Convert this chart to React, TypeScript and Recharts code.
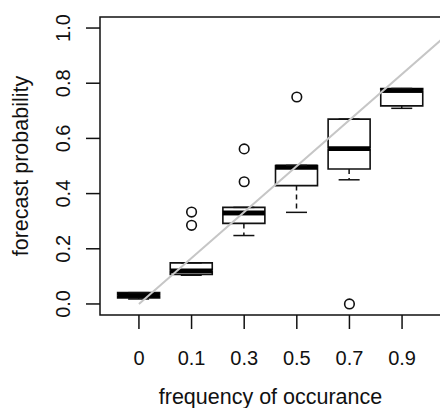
import {
  ComposedChart,
  Bar,
  Scatter,
  XAxis,
  YAxis,
  ReferenceLine,
  ReferenceArea,
} from "recharts";

const categories = ["0", "0.1", "0.3", "0.5", "0.7", "0.9"];
const lowerWhisker = [0.018, 0.104, 0.248, 0.332, 0.45, 0.709];
const lowerQuartile = [0.022, 0.107, 0.292, 0.429, 0.489, 0.718];
const medians = [0.032, 0.12, 0.33, 0.496, 0.563, 0.774];
const upperQuartile = [0.041, 0.149, 0.35, 0.502, 0.67, 0.781];
const upperWhisker = [0.041, 0.149, 0.35, 0.502, 0.67, 0.781];

const outlierGroup = [2, 2, 3, 3, 4, 5];
const outlierValue = [0.333, 0.285, 0.562, 0.443, 0.75, 0.0];

const yTicks = [0, 0.2, 0.4, 0.6, 0.8, 1];
const diagonalFrom = { x: 1, y: 0 };
const diagonalTo = { x: 7, y: 1 };

const FONT = '"Liberation Sans", Arial, sans-serif';
const INK = "#111";
const BOX_W = 42;

const rows = categories.map((c, i) => ({
  pos: i + 1,
  label: c,
  base: lowerWhisker[i],
  lowWhisk: lowerQuartile[i] - lowerWhisker[i],
  lowBox: medians[i] - lowerQuartile[i],
  highBox: upperQuartile[i] - medians[i],
  highWhisk: upperWhisker[i] - upperQuartile[i],
}));

const outliers = outlierGroup.map((g, i) => ({ pos: g, value: outlierValue[i] }));

function LowWhisker(props: any) {
  const { x, y, width, height } = props;
  const cx = x + width / 2;
  const bottom = y + height;
  return (
    <g>
      <line x1={cx} y1={y} x2={cx} y2={bottom} stroke={INK} strokeWidth={1.5} strokeDasharray="5 4" />
      <line x1={cx - width / 4} y1={bottom} x2={cx + width / 4} y2={bottom} stroke={INK} strokeWidth={1.5} />
    </g>
  );
}

function HighWhisker(props: any) {
  const { x, y, width, height } = props;
  const cx = x + width / 2;
  return (
    <g>
      <line x1={cx} y1={y} x2={cx} y2={y + height} stroke={INK} strokeWidth={1.5} strokeDasharray="5 4" />
      <line x1={cx - width / 4} y1={y} x2={cx + width / 4} y2={y} stroke={INK} strokeWidth={1.5} />
    </g>
  );
}

function LowBox(props: any) {
  const { x, y, width, height } = props;
  const b = y + height;
  return (
    <g>
      <rect x={x} y={y} width={width} height={height} fill="#fff" />
      <path d={`M${x},${y} L${x},${b} L${x + width},${b} L${x + width},${y}`} fill="none" stroke={INK} strokeWidth={1.6} />
      <line x1={x} y1={y} x2={x + width} y2={y} stroke="#000" strokeWidth={4.6} />
    </g>
  );
}

function HighBox(props: any) {
  const { x, y, width, height } = props;
  const b = y + height;
  return (
    <g>
      <rect x={x} y={y} width={width} height={height} fill="#fff" />
      <path d={`M${x},${b} L${x},${y} L${x + width},${y} L${x + width},${b}`} fill="none" stroke={INK} strokeWidth={1.6} />
      <line x1={x} y1={b} x2={x + width} y2={b} stroke="#000" strokeWidth={4.6} />
    </g>
  );
}

function XTick({ x, y, payload }: any) {
  return (
    <text x={x} y={y + 34} textAnchor="middle" fontFamily={FONT} fontSize={20} fill={INK}>
      {categories[payload.value - 1]}
    </text>
  );
}

function YTick({ x, y, payload }: any) {
  const tx = x - 14;
  return (
    <text
      x={tx}
      y={y}
      transform={`rotate(-90, ${tx}, ${y})`}
      textAnchor="middle"
      fontFamily={FONT}
      fontSize={20}
      fill={INK}
    >
      {payload.value.toFixed(1)}
    </text>
  );
}

export default function App() {
  return (
    <div
      style={{
        position: "fixed",
        left: 0,
        top: 0,
        width: 440,
        height: 408,
        overflow: "hidden",
        background: "#fff",
      }}
    >
      <ComposedChart
        width={442}
        height={408}
        data={rows}
        margin={{ top: 17, right: 1, bottom: 0, left: 0 }}
      >
        <XAxis
          dataKey="pos"
          type="number"
          domain={[0.26, 6.74]}
          allowDataOverflow
          ticks={[1, 2, 3, 4, 5, 6]}
          interval={0}
          height={93}
          axisLine={false}
          tickSize={14}
          tickLine={{ stroke: INK, strokeWidth: 1.5 }}
          tick={<XTick />}
          label={{
            content: ({ viewBox }: any) => (
              <text
                x={viewBox.x + viewBox.width / 2}
                y={viewBox.y + 88.5}
                textAnchor="middle"
                fontFamily={FONT}
                fontSize={21.5}
                fill={INK}
              >
                frequency of occurance
              </text>
            ),
          }}
        />
        <YAxis
          type="number"
          domain={[-0.04, 1.04]}
          allowDataOverflow
          ticks={yTicks}
          interval={0}
          width={100}
          axisLine={false}
          tickSize={14}
          tickLine={{ stroke: INK, strokeWidth: 1.5 }}
          tick={<YTick />}
          label={{
            content: ({ viewBox }: any) => {
              const cy = viewBox.y + viewBox.height / 2;
              return (
                <text
                  x={28}
                  y={cy}
                  transform={`rotate(-90, 28, ${cy})`}
                  textAnchor="middle"
                  fontFamily={FONT}
                  fontSize={21.5}
                  fill={INK}
                >
                  forecast probability
                </text>
              );
            },
          }}
        />
        <ReferenceArea
          x1={0.26}
          x2={6.74}
          y1={-0.04}
          y2={1.04}
          fill="none"
          stroke={INK}
          strokeWidth={1.5}
          ifOverflow="visible"
        />
        <Bar dataKey="base" stackId="box" barSize={BOX_W} shape={() => <g />} isAnimationActive={false} />
        <Bar dataKey="lowWhisk" stackId="box" barSize={BOX_W} shape={<LowWhisker />} isAnimationActive={false} />
        <Bar dataKey="lowBox" stackId="box" barSize={BOX_W} shape={<LowBox />} isAnimationActive={false} />
        <Bar dataKey="highBox" stackId="box" barSize={BOX_W} shape={<HighBox />} isAnimationActive={false} />
        <Bar dataKey="highWhisk" stackId="box" barSize={BOX_W} shape={<HighWhisker />} isAnimationActive={false} />
        <Scatter
          data={outliers}
          dataKey="value"
          isAnimationActive={false}
          shape={(p: any) => (
            <circle cx={p.cx} cy={p.cy} r={4.8} fill="none" stroke={INK} strokeWidth={1.6} />
          )}
        />
        <ReferenceLine
          segment={[diagonalFrom, diagonalTo]}
          stroke="#c6c6c6"
          strokeWidth={2}
          ifOverflow="visible"
        />
      </ComposedChart>
    </div>
  );
}
